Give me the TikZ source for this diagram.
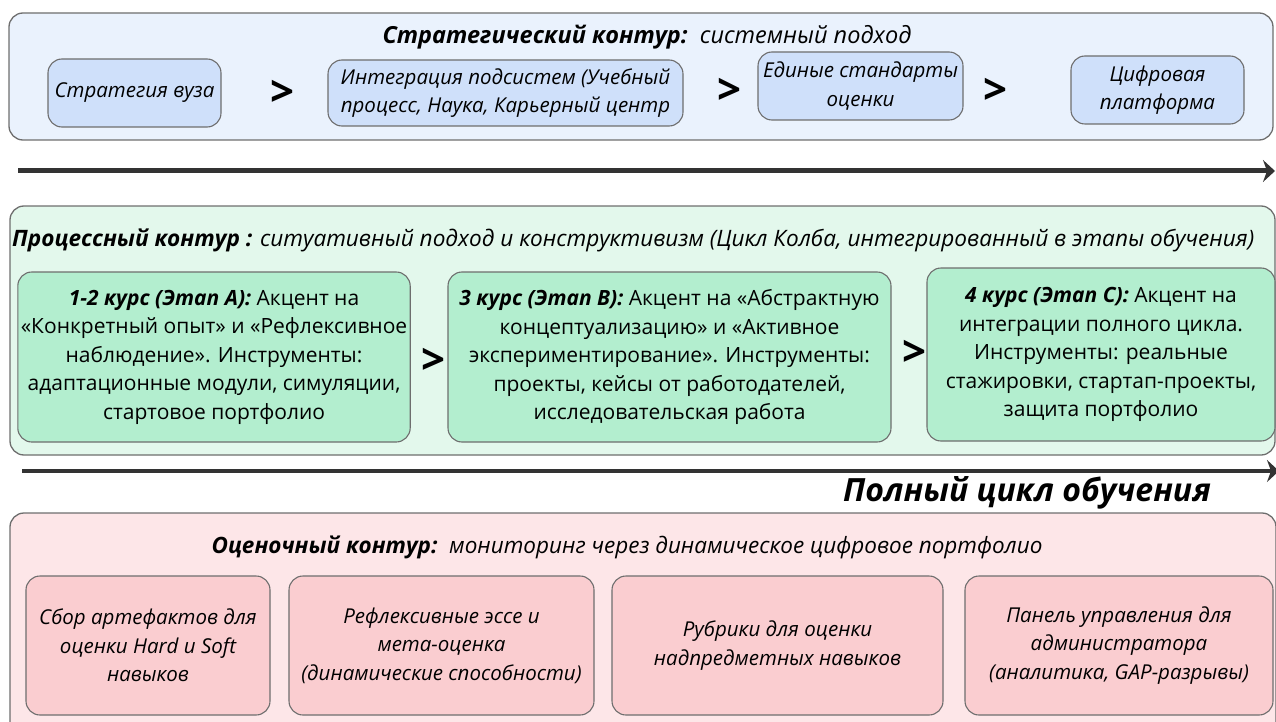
\documentclass[tikz,border=0pt]{standalone}
\usepackage{fontspec}
\setmainfont{Open Sans}
\usetikzlibrary{arrows.meta}

\definecolor{stratbg}{HTML}{EAF2FD}
\definecolor{stratfill}{HTML}{CFE0FA}
\definecolor{procbg}{HTML}{E3F8EC}
\definecolor{procfill}{HTML}{B3EECF}
\definecolor{evalbg}{HTML}{FDE6E8}
\definecolor{evalfill}{HTML}{FACDD0}
\definecolor{framegray}{HTML}{6E6E6E}
\definecolor{arrowgray}{HTML}{333333}

\tikzset{
  contour/.style = {draw=framegray, line width=1.3pt, rounded corners=14pt},
  stepbox/.style = {draw=framegray, line width=1.1pt, rounded corners=14pt,
                    align=center, inner sep=3pt},
  gt/.style = {font=\fontsize{42}{42}\bfseries\selectfont, inner sep=0pt},
  title/.style = {font=\fontsize{#1}{28}\selectfont, inner sep=0pt},
  title/.default = 23,
  flow/.style = {draw=arrowgray, line width=#1,
                 -{Stealth[length=12pt, width=22pt, inset=4pt]}},
  flow/.default = 5pt
}

\begin{document}
\begin{tikzpicture}[x=1pt, y=-1pt]
	\def \rowS{93}
	\def \rowP{357}
	\def \rowE{645.5}
	\def \boxfont{\fontsize{20.5}{28.5}\selectfont}
	\def \procfont{\fontsize{21}{28.5}\selectfont}

	\useasboundingbox (0,0) rectangle (1276,722);

	% Strategic contour
	\draw[contour, fill=stratbg] (9,13) rectangle (1273,140);
	\node[title=23.5] (stratT) at (647,37) {\textbf{\textit{Стратегический контур:}}\ \ \textit{системный подход}};

	\node[stepbox, fill=stratfill, font=\boxfont\itshape, minimum width=173pt, minimum height=68pt] (univ) at (134.5,\rowS) {Стратегия вуза};
	\node[gt] (gtS1) at (282,\rowS) {>};
	\node[stepbox, fill=stratfill, font=\boxfont\itshape, minimum width=355pt, minimum height=66pt] (integ) at (505.5,\rowS) {Интеграция подсистем (Учебный\\процесс, Наука, Карьерный центр};
	\node[gt] (gtS2) at (729,91) {>};
	\node[stepbox, fill=stratfill, font=\boxfont\itshape, minimum width=205pt, minimum height=68pt] (stand) at (860.5,86) {Единые стандарты\\оценки};
	\node[gt] (gtS3) at (995,91) {>};
	\node[stepbox, fill=stratfill, font=\boxfont\itshape, minimum width=173pt, minimum height=68pt] (digit) at (1157.5,90) {Цифровая\\платформа};

	% Arrow 1
	\coordinate (a1s) at (18,171);
	\coordinate (a1e) at (1275,171);
	\draw[flow=5pt] (a1s) -- (a1e);

	% Process contour
	\draw[contour, fill=procbg] (10,206) rectangle (1275,455);
	\node[title=22.6, anchor=west] (procT) at (12,240) {\textbf{\textit{Процессный контур :}} \textit{ситуативный подход и конструктивизм (Цикл Колба, интегрированный в этапы обучения)}};

	\node[stepbox, fill=procfill, font=\procfont, minimum width=392pt, minimum height=170pt] (stageA) at (214,\rowP) {\textbf{\textit{1-2 курс (Этап А):}} Акцент на\\«Конкретный опыт» и «Рефлексивное\\наблюдение». Инструменты:\\адаптационные модули, симуляции,\\стартовое портфолио};
	\node[gt] (gtP1) at (433,361) {>};
	\node[stepbox, fill=procfill, font=\procfont, minimum width=443pt, minimum height=170pt] (stageB) at (669.5,\rowP) {\textbf{\textit{3 курс (Этап B):}} Акцент на «Абстрактную\\концептуализацию» и «Активное\\экспериментирование». Инструменты:\\проекты, кейсы от работодателей,\\исследовательская работа};
	\node[gt] (gtP2) at (914,353) {>};
	\node[stepbox, fill=procfill, font=\procfont, minimum width=348pt, minimum height=173pt] (stageC) at (1101,354.5) {\textbf{\textit{4 курс (Этап C):}} Акцент на\\интеграции полного цикла.\\Инструменты: реальные\\стажировки, стартап-проекты,\\защита портфолио};

	% Arrow 2
	\coordinate (a2s) at (22,471);
	\coordinate (a2e) at (1279,471);
	\draw[flow=4pt] (a2s) -- (a2e);
	\node[font=\fontsize{32}{32}\bfseries\itshape\selectfont, inner sep=0pt] (cycle) at (1027,493) {Полный цикл обучения};

	% Evaluation contour
	\draw[contour, fill=evalbg] (10,513) rectangle (1276,745);
	\node[title=22.5] (evalT) at (627,547) {\textbf{\textit{Оценочный контур:}}\ \ \textit{мониторинг через динамическое цифровое портфолио}};

	\node[stepbox, fill=evalfill, font=\boxfont\itshape, minimum width=244pt, minimum height=139pt] (ev1) at (148,\rowE) {Сбор артефактов для\\оценки Hard и Soft\\навыков};
	\node[stepbox, fill=evalfill, font=\boxfont\itshape, minimum width=305pt, minimum height=139pt] (ev2) at (441.5,\rowE) {Рефлексивные эссе и\\мета-оценка\\(динамические способности)};
	\node[stepbox, fill=evalfill, font=\boxfont\itshape, minimum width=331pt, minimum height=139pt] (ev3) at (777.5,\rowE) {Рубрики для оценки\\надпредметных навыков};
	\node[stepbox, fill=evalfill, font=\boxfont\itshape, minimum width=308pt, minimum height=139pt] (ev4) at (1119,\rowE) {Панель управления для\\администратора\\(аналитика, GAP-разрывы)};

\end{tikzpicture}
\end{document}
